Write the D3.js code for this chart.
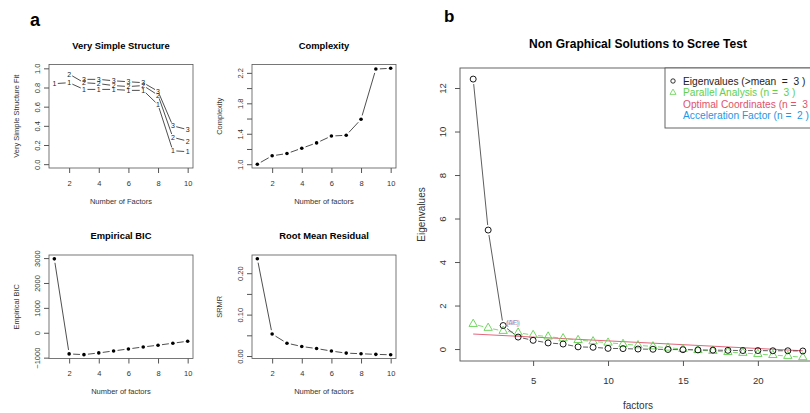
<!DOCTYPE html>
<html>
<head>
<meta charset="utf-8">
<script src="https://cdnjs.cloudflare.com/ajax/libs/d3/7.8.5/d3.min.js"></script>
<style>
  body { margin: 0; background: #fff; }
  svg { font-family: "Liberation Sans", Arial, sans-serif; display: block; }
</style>
</head>
<body>
<div class="container"></div>
<script>
// --- data ---
let factors10 = [1, 2, 3, 4, 5, 6, 7, 8, 9, 10];
let vss1 = [0.84, 0.85, 0.78, 0.78, 0.78, 0.77, 0.77, 0.62, 0.14, 0.13];
let vss2 = [null, 0.94, 0.85, 0.84, 0.82, 0.81, 0.82, 0.72, 0.28, 0.24];
let vss3 = [null, null, 0.885, 0.885, 0.87, 0.86, 0.85, 0.76, 0.40, 0.36];
let complexity = [1.00, 1.11, 1.14, 1.21, 1.28, 1.37, 1.38, 1.59, 2.25, 2.26];
let ebic = [2970, -850, -880, -810, -730, -650, -570, -500, -420, -340];
let srmr = [0.235, 0.053, 0.031, 0.023, 0.018, 0.012, 0.007, 0.0055, 0.004, 0.003];

let factors23 = [1, 2, 3, 4, 5, 6, 7, 8, 9, 10, 11, 12, 13, 14, 15, 16, 17, 18, 19, 20, 21, 22, 23];
let eigenvalues = [12.41, 5.47, 1.08, 0.55, 0.40, 0.28, 0.23, 0.10, 0.08, 0.03, 0.02, 0.00,
  -0.01, -0.02, -0.03, -0.04, -0.05, -0.06, -0.07, -0.07, -0.08, -0.08, -0.09];
let parallel = [1.15, 0.97, 0.83, 0.75, 0.64, 0.57, 0.49, 0.41, 0.35, 0.29, 0.23, 0.17,
  0.12, 0.06, 0.00, -0.05, -0.09, -0.14, -0.18, -0.23, -0.28, -0.32, -0.38];
let ocLineX = [1, 23];
let ocLineY = [0.69, -0.08];

let legendLabels = [
  'Eigenvalues (>mean  =  3 )',
  'Parallel Analysis (n =  3 )',
  'Optimal Coordinates (n =  3 )',
  'Acceleration Factor (n =  2 )'
];
let legendColors = ['#000000', '#61D04F', '#DF536B', '#2297E6'];

let smallXTicks = [2, 4, 6, 8, 10];
let vssTicks = [0, 0.2, 0.4, 0.6, 0.8, 1.0];
let complexityTicks = [1.0, 1.2, 1.4, 1.6, 1.8, 2.0, 2.2];
let complexityLabels = [1.0, 1.4, 1.8, 2.2];
let ebicTicks = [-1000, 0, 1000, 2000, 3000];
let srmrTicks = [0, 0.05, 0.10, 0.15, 0.20];
let srmrLabels = [0, 0.10, 0.20];
let eigenXTicks = [5, 10, 15, 20];
let eigenYTicks = [0, 2, 4, 6, 8, 10, 12];

// --- setup ---
let width = 810;
let height = 413;

let svg = d3.select('.container')
  .append('svg')
  .attr('width', width)
  .attr('height', height);

svg.append('rect').attr('width', width).attr('height', height).attr('fill', '#fff');

// R-like type = "b": segments that stop short of each point
function drawB(g, xs, ys, x, y, gap, attrs) {
  for (let i = 0; i < xs.length - 1; i++) {
    if (ys[i] == null || ys[i + 1] == null) continue;
    let x1 = x(xs[i]), y1 = y(ys[i]), x2 = x(xs[i + 1]), y2 = y(ys[i + 1]);
    let len = Math.hypot(x2 - x1, y2 - y1);
    if (len <= 2 * gap) continue;
    let ux = (x2 - x1) / len, uy = (y2 - y1) / len;
    let line = g.append('line')
      .attr('x1', x1 + ux * gap).attr('y1', y1 + uy * gap)
      .attr('x2', x2 - ux * gap).attr('y2', y2 - uy * gap)
      .attr('stroke', '#222').attr('stroke-width', 0.8);
    for (let k in attrs) line.attr(k, attrs[k]);
  }
}

function smallPanel(opt) {
  let left = opt.left, top = opt.top, w = 144, h = 103.5;
  let g = svg.append('g');
  let x = d3.scaleLinear().domain([0.64, 10.36]).range([left, left + w]);
  let y = d3.scaleLinear().domain(opt.yDomain).range([top + h, top]);

  g.append('rect')
    .attr('x', left).attr('y', top).attr('width', w).attr('height', h)
    .attr('fill', 'none').attr('stroke', '#555').attr('stroke-width', 0.8);

  let xAxis = d3.axisBottom(x).tickValues(smallXTicks).tickSize(5).tickFormat(d3.format('d'));
  let gx = g.append('g').attr('transform', 'translate(0,' + (top + h) + ')').call(xAxis);
  gx.select('.domain').remove();
  gx.selectAll('line').attr('stroke', '#555');
  gx.selectAll('text').attr('y', 15).attr('dy', '0.35em')
    .style('font-size', '7.5px').attr('fill', '#333').attr('font-family', null);

  let yAxis = d3.axisLeft(y).tickValues(opt.yTicks).tickSize(5)
    .tickFormat((d) => (opt.yLabels.some((v) => Math.abs(v - d) < 1e-9) ? opt.fmt(d) : ''));
  let gy = g.append('g').attr('transform', 'translate(' + left + ',0)').call(yAxis);
  gy.select('.domain').remove();
  gy.selectAll('line').attr('stroke', '#555');
  gy.selectAll('text')
    .attr('x', null).attr('dy', '0.35em')
    .attr('transform', 'translate(-12,0) rotate(-90)')
    .attr('text-anchor', 'middle')
    .style('font-size', '7.5px').attr('fill', '#333').attr('font-family', null);

  g.append('text')
    .attr('x', left + w / 2).attr('y', top - 19).attr('dy', '0.35em')
    .attr('text-anchor', 'middle').attr('font-weight', 'bold')
    .style('font-size', '9.4px').text(opt.title);

  g.append('text')
    .attr('x', left + w / 2).attr('y', top + h + 33).attr('dy', '0.35em')
    .attr('text-anchor', 'middle').style('font-size', '7.5px').attr('fill', '#333')
    .text(opt.xLabel);

  g.append('text')
    .attr('transform', 'translate(' + (left - 33) + ',' + (top + h / 2) + ') rotate(-90)')
    .attr('dy', '0.35em')
    .attr('text-anchor', 'middle').style('font-size', '7.5px').attr('fill', '#333')
    .text(opt.yLabel);

  return { g: g, x: x, y: y };
}

// --- panel a ---
svg.append('text').attr('x', 30).attr('y', 26)
  .attr('font-weight', 'bold').style('font-size', '18px').text('a');

let p1 = smallPanel({
  left: 49, top: 64.5, title: 'Very Simple Structure',
  xLabel: 'Number of Factors', yLabel: 'Very Simple Structure Fit',
  yDomain: [-0.04, 1.04], yTicks: vssTicks, yLabels: vssTicks, fmt: d3.format('.1f')
});
[vss1, vss2, vss3].forEach((series, si) => {
  drawB(p1.g, factors10, series, p1.x, p1.y, 3.5);
  p1.g.selectAll('.digit' + si)
    .data(factors10.filter((d, i) => series[i] != null))
    .enter()
    .append('text')
    .attr('x', (d) => p1.x(d))
    .attr('y', (d) => p1.y(series[d - 1]))
    .attr('dy', '0.35em')
    .attr('text-anchor', 'middle')
    .style('font-size', '7px')
    .attr('fill', '#222')
    .text(si + 1);
});

let p2 = smallPanel({
  left: 252, top: 64.5, title: 'Complexity',
  xLabel: 'Number of factors', yLabel: 'Complexity',
  yDomain: [0.95, 2.31], yTicks: complexityTicks, yLabels: complexityLabels, fmt: d3.format('.1f')
});

let p3 = smallPanel({
  left: 49, top: 255, title: 'Empirical BIC',
  xLabel: 'Number of factors', yLabel: 'Empirical BIC',
  yDomain: [-1034, 3124], yTicks: ebicTicks, yLabels: ebicTicks, fmt: d3.format('d')
});

let p4 = smallPanel({
  left: 252, top: 255, title: 'Root Mean Residual',
  xLabel: 'Number of factors', yLabel: 'SRMR',
  yDomain: [-0.006, 0.244], yTicks: srmrTicks, yLabels: srmrLabels, fmt: d3.format('.2f')
});

[[p2, complexity], [p3, ebic], [p4, srmr]].forEach(([p, series]) => {
  drawB(p.g, factors10, series, p.x, p.y, 4);
  p.g.selectAll('.dot')
    .data(factors10)
    .enter()
    .append('circle')
    .attr('cx', (d) => p.x(d))
    .attr('cy', (d, i) => p.y(series[i]))
    .attr('r', 1.8)
    .attr('fill', '#000');
});

// --- panel b ---
svg.append('text').attr('x', 444).attr('y', 22)
  .attr('font-weight', 'bold').style('font-size', '17px').text('b');

let bLeft = 460, bTop = 68, bRight = 816, bBottom = 361;
let xB = d3.scaleLinear().domain([0.12, 23.88]).range([bLeft, bRight]);
let yB = d3.scaleLinear().domain([-0.55, 12.92]).range([bBottom, bTop]);
let gb = svg.append('g');

gb.append('rect')
  .attr('x', bLeft).attr('y', bTop).attr('width', bRight - bLeft).attr('height', bBottom - bTop)
  .attr('fill', 'none').attr('stroke', '#555').attr('stroke-width', 0.9);

let gxB = gb.append('g').attr('transform', 'translate(0,' + bBottom + ')')
  .call(d3.axisBottom(xB).tickValues(eigenXTicks).tickSize(5));
gxB.select('.domain').remove();
gxB.selectAll('line').attr('stroke', '#555');
gxB.selectAll('text').attr('y', 19.5).attr('dy', '0.35em')
  .style('font-size', '9.6px').attr('fill', '#333').attr('font-family', null);

let gyB = gb.append('g').attr('transform', 'translate(' + bLeft + ',0)')
  .call(d3.axisLeft(yB).tickValues(eigenYTicks).tickSize(5));
gyB.select('.domain').remove();
gyB.selectAll('line').attr('stroke', '#555');
gyB.selectAll('text')
  .attr('x', null).attr('dy', '0.35em')
  .attr('transform', 'translate(-17,0) rotate(-90)')
  .attr('text-anchor', 'middle')
  .style('font-size', '9.6px').attr('fill', '#333').attr('font-family', null);

gb.append('text')
  .attr('x', 638).attr('y', 44).attr('dy', '0.35em')
  .attr('text-anchor', 'middle').attr('font-weight', 'bold')
  .style('font-size', '12px').text('Non Graphical Solutions to Scree Test');

gb.append('text')
  .attr('x', 638).attr('y', 405).attr('dy', '0.35em')
  .attr('text-anchor', 'middle').style('font-size', '10px').attr('fill', '#333')
  .text('factors');

gb.append('text')
  .attr('transform', 'translate(421,' + ((bTop + bBottom) / 2) + ') rotate(-90)')
  .attr('dy', '0.35em')
  .attr('text-anchor', 'middle').style('font-size', '10px').attr('fill', '#333')
  .text('Eigenvalues');

// optimal coordinates line
gb.append('path')
  .datum(ocLineX)
  .attr('d', d3.line().x((d) => xB(d)).y((d, i) => yB(ocLineY[i])))
  .attr('fill', 'none').attr('stroke', legendColors[2]).attr('stroke-width', 0.9);

// parallel analysis
drawB(gb, factors23, parallel, xB, yB, 5, { stroke: legendColors[1] });
gb.selectAll('.tri')
  .data(factors23)
  .enter()
  .append('path')
  .attr('d', d3.symbol(d3.symbolTriangle).size(30))
  .attr('transform', (d, i) => 'translate(' + xB(d) + ',' + yB(parallel[i]) + ')')
  .attr('fill', 'none').attr('stroke', legendColors[1]).attr('stroke-width', 0.9);

// eigenvalues
drawB(gb, factors23, eigenvalues, xB, yB, 5, { stroke: '#333' });
gb.selectAll('.eig')
  .data(factors23)
  .enter()
  .append('circle')
  .attr('cx', (d) => xB(d))
  .attr('cy', (d, i) => yB(eigenvalues[i]))
  .attr('r', 3)
  .attr('fill', 'none').attr('stroke', '#000').attr('stroke-width', 0.9);

// (OC) / (AF) tags at factor 3
let tagX = xB(factors23[2]) + 3, tagY = yB(eigenvalues[2]) - 3;
gb.append('text').attr('x', tagX).attr('y', tagY).attr('dy', '0.35em')
  .style('font-size', '6.5px').attr('fill', legendColors[3]).attr('opacity', 0.8).text('(AF)');
gb.append('text').attr('x', tagX).attr('y', tagY).attr('dy', '0.35em')
  .style('font-size', '6.5px').attr('fill', legendColors[2]).attr('opacity', 0.6).text('(OC)');

// legend
let lg = gb.append('g');
lg.append('rect')
  .attr('x', 665).attr('y', bTop).attr('width', bRight - 665).attr('height', 60)
  .attr('fill', '#fff').attr('stroke', '#555').attr('stroke-width', 0.9);
lg.selectAll('.lt')
  .data(legendLabels)
  .enter()
  .append('text')
  .attr('x', 683)
  .attr('y', (d, i) => 81 + i * 11.6)
  .attr('dy', '0.35em')
  .attr('xml:space', 'preserve')
  .style('white-space', 'pre')
  .style('font-size', '10.2px')
  .attr('fill', (d, i) => (i === 0 ? '#222' : legendColors[i]))
  .text((d) => d);
lg.append('circle').attr('cx', 673).attr('cy', 81).attr('r', 2.2)
  .attr('fill', 'none').attr('stroke', '#000').attr('stroke-width', 0.8);
lg.append('path').attr('d', d3.symbol(d3.symbolTriangle).size(16)())
  .attr('transform', 'translate(673,' + (81 + 11.6) + ')')
  .attr('fill', 'none').attr('stroke', legendColors[1]).attr('stroke-width', 0.8);
</script>
</body>
</html>
